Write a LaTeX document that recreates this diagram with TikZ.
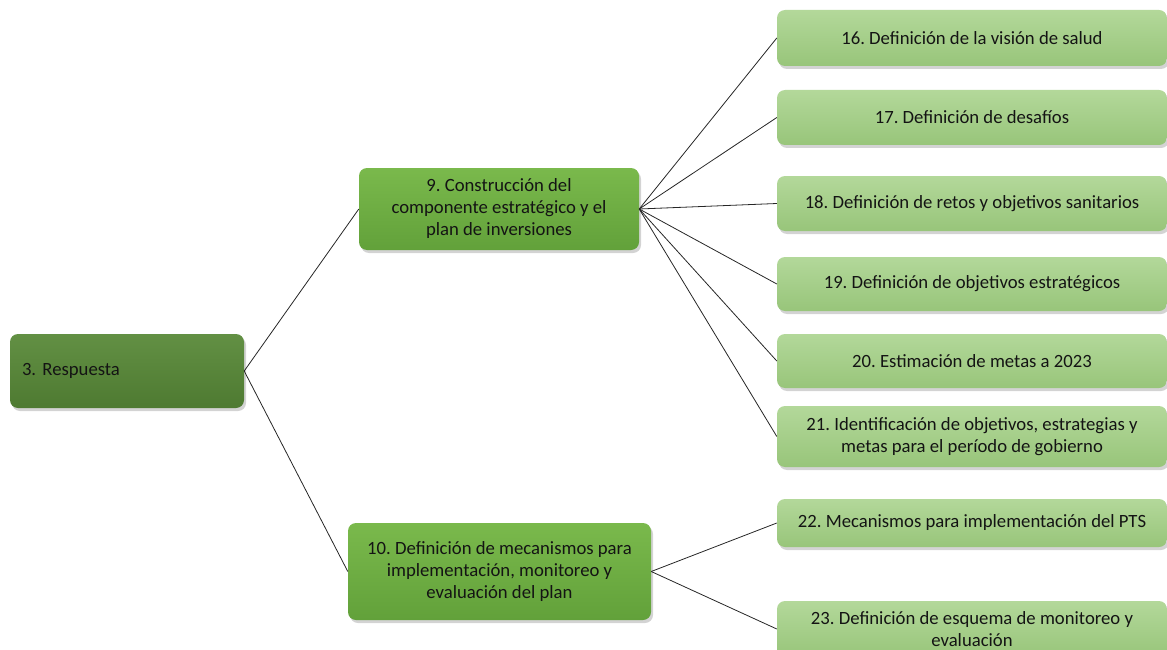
\documentclass[tikz,border=0pt]{standalone}
\usepackage{fontspec}
\setmainfont{Carlito}
\usetikzlibrary{shadows}
\definecolor{rootfill}{HTML}{5A8A3A}
\definecolor{rootedge}{HTML}{4E7A31}
\definecolor{midtop}{HTML}{7AB94C}
\definecolor{midbot}{HTML}{62A13A}
\definecolor{leaftop}{HTML}{B3D89A}
\definecolor{leafbot}{HTML}{98C57A}
\tikzset{
  box/.style={rectangle, rounded corners=8pt, draw=none,
    drop shadow={opacity=0.35, shadow xshift=2pt, shadow yshift=-3pt},
    font=\fontsize{18.7}{22}\selectfont\frenchspacing, text=black!92},
  rootbox/.style={box, top color=rootfill!95!white, bottom color=rootedge,
    minimum width=234pt, minimum height=74pt, text width=210pt, align=left, inner xsep=12pt},
  midbox/.style={box, top color=midtop, bottom color=midbot, align=center, inner sep=0pt},
  leafbox/.style={box, top color=leaftop, bottom color=leafbot, align=center,
    minimum width=390pt, inner sep=0pt},
  conn/.style={draw=black!85, line width=0.8pt}
}
\begin{document}
\begin{tikzpicture}[x=1pt,y=-1pt]
\useasboundingbox (0,0) rectangle (1167,650);
\node[rootbox] (r) at (127,371) {3. Respuesta};
\node[midbox, minimum width=280pt, minimum height=82pt] (m9) at (499,209)
  {9. Construcción del\\componente estratégico y el\\plan de inversiones};
\node[midbox, minimum width=303pt, minimum height=97pt] (m10) at (499.5,571.5)
  {10. Definición de mecanismos para\\implementación, monitoreo y\\evaluación del plan};
\node[leafbox, minimum height=56pt] (l16) at (972,38) {16. Definición de la visión de salud};
\node[leafbox, minimum height=55pt] (l17) at (972,117.5) {17. Definición de desafíos};
\node[leafbox, minimum height=55pt] (l18) at (972,203.5) {18. Definición de retos y objetivos sanitarios};
\node[leafbox, minimum height=54pt] (l19) at (972,284) {19. Definición de objetivos estratégicos};
\node[leafbox, minimum height=54pt] (l20) at (972,361) {20. Estimación de metas a 2023};
\node[leafbox, minimum height=61pt] (l21) at (972,436.5) {21. Identificación de objetivos, estrategias y\\metas para el período de gobierno};
\node[leafbox, minimum height=48pt] (l22) at (972,523) {22. Mecanismos para implementación del PTS};
\node[leafbox, minimum height=56pt] (l23) at (972,629) {23. Definición de esquema de monitoreo y\\evaluación};
\draw[conn] (r.east) -- (m9.west);
\draw[conn] (r.east) -- (m10.west);
\foreach \t in {l16,l17,l18,l19,l20,l21}{\draw[conn] (m9.east) -- (\t.west);}
\foreach \t in {l22,l23}{\draw[conn] (m10.east) -- (\t.west);}
\end{tikzpicture}
\end{document}
